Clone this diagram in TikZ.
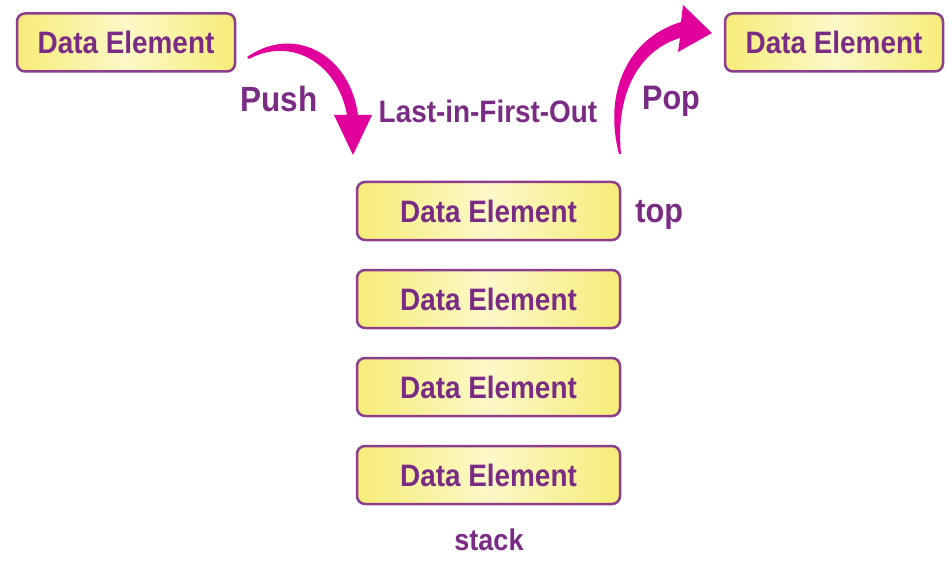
\documentclass[tikz,border=0pt]{standalone}
\usepackage{fontspec}
\setmainfont{Liberation Sans}[FakeStretch=0.9]
\definecolor{txtpurple}{RGB}{122,44,132}
\definecolor{bordpurple}{RGB}{140,62,142}
\definecolor{yelA}{RGB}{246,236,120}
\definecolor{yelB}{RGB}{252,248,200}
\definecolor{magentaA}{RGB}{226,0,156}
\tikzset{
  databox/.style={draw=bordpurple, line width=2.5pt, rounded corners=8pt,
    left color=yelA, right color=yelA, middle color=yelB,
    text=txtpurple, font=\bfseries\fontsize{31}{31}\selectfont,
    inner sep=0pt, minimum height=58pt},
  smallbox/.style={databox, minimum width=218pt},
  stackbox/.style={databox, minimum width=263pt},
  lbl/.style={text=txtpurple, inner sep=0pt},
  arr/.style={fill=magentaA, draw=none}
}
\begin{document}
\begin{tikzpicture}[x=1pt,y=-1pt]
\useasboundingbox (0,0) rectangle (949,561);
% boxes
\node[smallbox] (src) at (126,42.5) {Data Element};
\node[smallbox] (dst) at (834,42.5) {Data Element};
\node[stackbox] (b1) at (488.5,211) {Data Element};
\node[stackbox] (b2) at (488.5,299) {Data Element};
\node[stackbox] (b3) at (488.5,387) {Data Element};
\node[stackbox] (b4) at (488.5,475) {Data Element};
% labels
\node[lbl, anchor=base west, font=\bfseries\fontsize{34}{34}\selectfont] (toplbl) at ([xshift=14pt]b1.base east) {top};
\node[lbl, font=\bfseries\fontsize{30}{30}\selectfont] (stacklbl) at (489,540) {stack};
\node[lbl, anchor=base, font=\bfseries\fontsize{35}{35}\selectfont] (push) at (279,112) {Push};
\node[lbl, anchor=base, font=\bfseries\fontsize{34}{34}\selectfont] (pop) at (671,110) {Pop};
\node[lbl, anchor=base, font=\bfseries\fontsize{31}{31}\selectfont] (lifo) at (488,123) {Last-in-First-Out};
% push arrow
\coordinate (pushstart) at (247,57);
\coordinate (pushtip) at (353,155);
\fill[arr] (pushstart) .. controls (295,24) and (350,55) .. (358,115)
  -- (372,115) -- (pushtip) -- (334,115) -- (347,115)
  .. controls (338,64) and (292,36) .. (249,59) -- cycle;
% pop arrow
\coordinate (popstart) at (619,154);
\coordinate (poptip) at (712,33);
\fill[arr] (popstart) .. controls (603,92) and (628,38) .. (681,22)
  -- (683,5) -- (poptip) -- (678,52) -- (680,38)
  .. controls (640,50) and (615,92) .. (621,154) -- cycle;
\end{tikzpicture}
\end{document}
